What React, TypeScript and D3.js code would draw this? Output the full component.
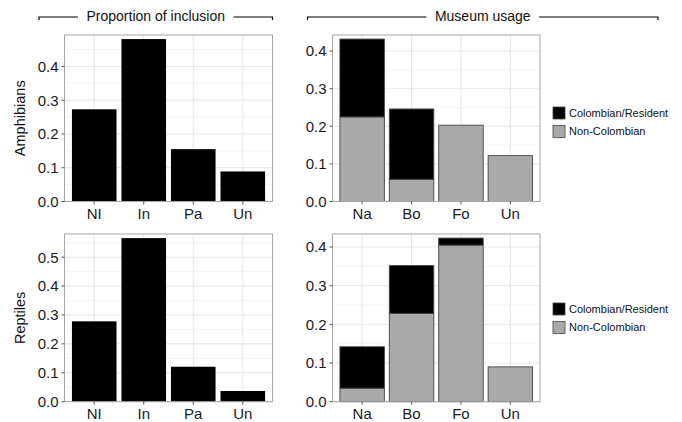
import React from "react";
import * as d3 from "d3";

const inclusionCategories = ["NI", "In", "Pa", "Un"];
const usageCategories = ["Na", "Bo", "Fo", "Un"];
const amphibianInclusion = [0.273, 0.481, 0.155, 0.089];
const reptileInclusion = [0.278, 0.566, 0.121, 0.037];
const amphibianNonColombian = [0.225, 0.059, 0.203, 0.122];
const amphibianColombian = [0.207, 0.187, 0, 0];
const reptileNonColombian = [0.035, 0.228, 0.405, 0.09];
const reptileColombian = [0.107, 0.124, 0.018, 0];
const rowLabels = ["Amphibians", "Reptiles"];
const columnHeaders = ["Proportion of inclusion", "Museum usage"];
const legendLabels = ["Colombian/Resident", "Non-Colombian"];

const FONT = "'Liberation Sans', Arial, sans-serif";
const GREY = "#a9a9a9";
const BLACK = "#000000";
const TICK_FS = 15;

const COLS = [
  { x0: 64.5, x1: 272.5 },
  { x0: 332.5, x1: 540 },
];
const ROWS = [
  { y0: 35, y1: 201.5, legendY: 113 },
  { y0: 234, y1: 401.7, legendY: 309 },
];

function measure(text: string, size: number): number {
  try {
    const c = document.createElement("canvas");
    const ctx = c.getContext("2d");
    if (ctx) {
      ctx.font = `${size}px 'Liberation Sans', Arial, sans-serif`;
      return ctx.measureText(text).width;
    }
  } catch (e) {}
  return text.length * size * 0.5;
}

type Layer = { values: number[]; fill: string };

function Panel({
  x0, x1, y0, y1, cats, layers, stroke,
}: {
  x0: number; x1: number; y0: number; y1: number; cats: string[]; layers: Layer[]; stroke: string | null;
}) {
  const totals = cats.map((_, i) => d3.sum(layers, (l) => l.values[i]));
  const maxV = d3.max(totals) as number;
  const y = d3.scaleLinear().domain([0, maxV * 1.025]).range([y1, y0]);
  const x = d3.scaleBand<string>().domain(cats).range([x0, x1]).paddingInner(0.1).paddingOuter(0.15);
  const major = y.ticks(5);
  const minorAll = y.ticks(10);
  const minor = minorAll.filter((t) => !major.some((m) => Math.abs(m - t) < 1e-9));
  const fmt = d3.format(".1f");

  const stacked: { x: number; y: number; w: number; h: number; fill: string; key: string }[] = [];
  cats.forEach((c, i) => {
    let base = 0;
    layers.forEach((l, li) => {
      const v = l.values[i];
      if (v > 0) {
        const top = base + v;
        stacked.push({
          x: x(c) as number,
          y: y(top),
          w: x.bandwidth(),
          h: y(base) - y(top),
          fill: l.fill,
          key: c + li,
        });
      }
      base += v;
    });
  });

  return (
    <g>
      <rect x={x0} y={y0} width={x1 - x0} height={y1 - y0} fill="#fff" />
      {minor.map((t) => (
        <line key={"mn" + t} x1={x0} x2={x1} y1={y(t)} y2={y(t)} stroke="#f0f0f0" strokeWidth={0.6} />
      ))}
      {major.map((t) => (
        <line key={"mj" + t} x1={x0} x2={x1} y1={y(t)} y2={y(t)} stroke="#e3e3e3" strokeWidth={0.9} />
      ))}
      {cats.map((c) => {
        const cx = (x(c) as number) + x.bandwidth() / 2;
        return <line key={"vx" + c} x1={cx} x2={cx} y1={y0} y2={y1} stroke="#e3e3e3" strokeWidth={0.9} />;
      })}
      {stacked.map((b) => (
        <rect
          key={b.key}
          x={b.x}
          y={b.y}
          width={b.w}
          height={b.h}
          fill={b.fill}
          stroke={stroke ?? "none"}
          strokeWidth={stroke ? 0.9 : 0}
        />
      ))}
      <rect x={x0} y={y0} width={x1 - x0} height={y1 - y0} fill="none" stroke="#a6a6a6" strokeWidth={1} />
      {major.map((t) => (
        <g key={"yt" + t}>
          <line x1={x0 - 3} x2={x0} y1={y(t)} y2={y(t)} stroke="#444" strokeWidth={0.9} />
          <text x={x0 - 6} y={y(t)} dy="0.36em" textAnchor="end" fontSize={TICK_FS} fill="#1a1a1a" fontFamily={FONT}>
            {fmt(t)}
          </text>
        </g>
      ))}
      {cats.map((c) => {
        const cx = (x(c) as number) + x.bandwidth() / 2;
        return (
          <g key={"xt" + c}>
            <line x1={cx} x2={cx} y1={y1} y2={y1 + 3} stroke="#444" strokeWidth={0.9} />
            <text x={cx} y={y1 + 17.5} textAnchor="middle" fontSize={TICK_FS} fill="#1a1a1a" fontFamily={FONT}>
              {c}
            </text>
          </g>
        );
      })}
    </g>
  );
}

function Header({ x0, x1, label }: { x0: number; x1: number; label: string }) {
  const cx = (x0 + x1) / 2;
  const w = measure(label, 14);
  const gap = 8.5;
  return (
    <g>
      <path
        d={`M${x0},20 L${x0},17 L${cx - w / 2 - gap},17`}
        fill="none"
        stroke="#000"
        strokeWidth={1.2}
      />
      <path
        d={`M${cx + w / 2 + gap},17 L${x1},17 L${x1},20`}
        fill="none"
        stroke="#000"
        strokeWidth={1.2}
      />
      <text x={cx} y={21} textAnchor="middle" fontSize={14} fill="#111" fontFamily={FONT}>
        {label}
      </text>
    </g>
  );
}

function Legend({ y }: { y: number }) {
  const fills = [BLACK, GREY];
  return (
    <g>
      {legendLabels.map((l, i) => {
        const cy = y + i * 18.5;
        return (
          <g key={l}>
            <rect x={553} y={cy - 6} width={12} height={12} fill={fills[i]} stroke="#444" strokeWidth={0.8} />
            <text x={569} y={cy} dy="0.35em" fontSize={11} fill="#111" fontFamily={FONT}>
              {l}
            </text>
          </g>
        );
      })}
    </g>
  );
}

export default function App() {
  const inclusionData = [amphibianInclusion, reptileInclusion];
  const usageData = [
    [amphibianNonColombian, amphibianColombian],
    [reptileNonColombian, reptileColombian],
  ];
  return (
    <svg
      width={682}
      height={422}
      viewBox="0 0 682 422"
      style={{ position: "absolute", left: 0, top: 0, background: "#fff" }}
    >
      <rect x={0} y={0} width={682} height={422} fill="#fff" />
      <Header x0={39} x1={272.5} label={columnHeaders[0]} />
      <Header x0={307.5} x1={658} label={columnHeaders[1]} />
      {ROWS.map((r, ri) => (
        <g key={"row" + ri}>
          <text
            transform={`translate(25,${(r.y0 + r.y1) / 2}) rotate(-90)`}
            textAnchor="middle"
            fontSize={14.5}
            fill="#111"
            fontFamily={FONT}
          >
            {rowLabels[ri]}
          </text>
          <Panel
            x0={COLS[0].x0}
            x1={COLS[0].x1}
            y0={r.y0}
            y1={r.y1}
            cats={inclusionCategories}
            layers={[{ values: inclusionData[ri], fill: BLACK }]}
            stroke={null}
          />
          <Panel
            x0={COLS[1].x0}
            x1={COLS[1].x1}
            y0={r.y0}
            y1={r.y1}
            cats={usageCategories}
            layers={[
              { values: usageData[ri][0], fill: GREY },
              { values: usageData[ri][1], fill: BLACK },
            ]}
            stroke="#444"
          />
          <Legend y={r.legendY} />
        </g>
      ))}
    </svg>
  );
}
